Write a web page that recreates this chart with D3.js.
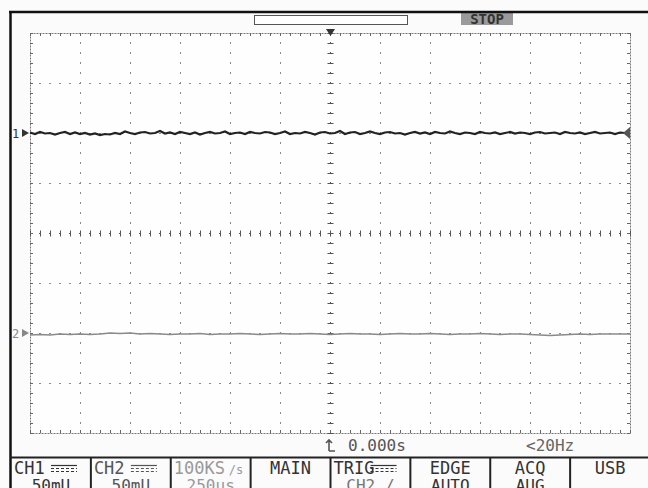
<!DOCTYPE html>
<html>
<head>
<meta charset="utf-8">
<script src="https://cdn.jsdelivr.net/npm/d3@7"></script>
<style>
  body { margin: 0; background: #fff; }
  text { font-family: "DejaVu Sans Mono", monospace; }
</style>
</head>
<body>
<div id="renderer"></div>
<script>
// timebase 250us/div, 12 divisions; vertical 50mV/div, 8 divisions
const timeDomain = [-1.5, 1.5];      // ms
const voltDomain = [-200, 200];      // mV
const timeDiv = 0.25;
const voltDiv = 50;

// CH1 trace, mV, one sample every 0.025 ms
const ch1 = [
  100.5, 99, 101, 99.5, 100, 98.5, 100, 101, 99, 100.5,
  99, 100, 98.5, 99.5, 98, 99, 98.5, 100, 99, 101.5,
  100, 99, 100.5, 101, 99.5, 100, 102, 99.5, 100.5, 99,
  101, 100, 99, 100.5, 98.5, 100, 101, 99.5, 100, 101.5,
  99, 100, 100.5, 99, 101, 100, 99.5, 101, 100.5, 99,
  100, 101.5, 99, 100, 99.5, 101, 100, 98.5, 100.5, 101,
  99.5, 100, 102, 99, 100.5, 101, 99, 100, 101.5, 100,
  99, 100.5, 101, 99.5, 100, 98.5, 100, 101, 99.5, 100.5,
  99, 101, 100, 99.5, 101.5, 100, 99, 100.5, 100, 99,
  101, 100, 99.5, 100.5, 99, 100, 101, 99.5, 100.5, 100,
  99, 100.5, 101, 99.5, 100, 100.5, 99, 101, 100, 99.5,
  100.5, 99, 100, 101, 99.5, 100, 100.5, 99, 100.5, 100, 100
];

// CH2 trace, mV, one sample every 0.05 ms
const ch2 = [
  -102, -101.5, -102, -101, -101.5, -101, -101.5, -101, -100, -100.5,
  -100, -101, -100.5, -101, -101.5, -101, -101, -100.5, -101.5, -101,
  -101, -100.5, -101, -101.5, -101, -100.5, -101, -101, -100.5, -101,
  -101.5, -101, -100.5, -101, -101, -101.5, -101, -100.5, -101, -101,
  -100.5, -101, -101.5, -101, -101, -100.5, -101, -101.5, -101, -101,
  -101.5, -102, -102.5, -102, -101.5, -101, -101.5, -101, -101, -101, -101
];

const ch1Offset = 100;   // channel ground markers, mV
const ch2Offset = -100;
const trigLevel = 100;

const buttons = [
  { top: "CH1", bottom: "50mU", dc: true, color: "#333", color2: "#333" },
  { top: "CH2", bottom: "50mU", dc: true, color: "#555", color2: "#555" },
  { top: "100KS", bottom: "250us", dc: false, color: "#999", color2: "#999", unit: "/s" },
  { top: "MAIN", bottom: "", dc: false, color: "#333", color2: "#333" },
  { top: "TRIG", bottom: "CH2 /", dc: true, color: "#333", color2: "#777" },
  { top: "EDGE", bottom: "AUTO", dc: false, color: "#333", color2: "#333" },
  { top: "ACQ", bottom: "AUG", dc: false, color: "#333", color2: "#333" },
  { top: "USB", bottom: "", dc: false, color: "#333", color2: "#333" }
];

const statusTime = "0.000s";
const statusFreq = "<20Hz";

const width = 648, height = 488;
const svg = d3.select("#renderer").append("svg")
  .attr("width", width).attr("height", height);

svg.append("rect").attr("width", width).attr("height", height).attr("fill", "#fbfbfb");

const x = d3.scaleLinear().domain(timeDomain).range([30, 630]);
const y = d3.scaleLinear().domain(voltDomain).range([433, 33]);

const nX = Math.round((timeDomain[1] - timeDomain[0]) / timeDiv);
const nY = Math.round((voltDomain[1] - voltDomain[0]) / voltDiv);
const xMajor = d3.range(nX + 1).map(i => timeDomain[0] + i * timeDiv);
const yMajor = d3.range(nY + 1).map(i => voltDomain[0] + i * voltDiv);
const xMinor = d3.range(nX * 5 + 1).map(i => timeDomain[0] + i * timeDiv / 5);
const yMinor = d3.range(nY * 5 + 1).map(i => voltDomain[0] + i * voltDiv / 5);

// plot background
svg.append("rect")
  .attr("x", x(timeDomain[0])).attr("y", y(voltDomain[1]))
  .attr("width", x(timeDomain[1]) - x(timeDomain[0]))
  .attr("height", y(voltDomain[0]) - y(voltDomain[1]))
  .attr("fill", "#fefefe");

const grid = svg.append("g");

// dotted grid lines
grid.selectAll(".vg").data(xMajor.slice(1, -1)).join("line")
  .attr("x1", d => x(d) + 0.5).attr("x2", d => x(d) + 0.5)
  .attr("y1", y(voltDomain[1])).attr("y2", y(voltDomain[0]))
  .attr("stroke", d => d === 0 ? "#555" : "#8a8a8a")
  .attr("stroke-dasharray", "2,8").attr("stroke-dashoffset", 1);
grid.selectAll(".hg").data(yMajor.slice(1, -1)).join("line")
  .attr("y1", d => y(d) + 0.5).attr("y2", d => y(d) + 0.5)
  .attr("x1", x(timeDomain[0])).attr("x2", x(timeDomain[1]))
  .attr("stroke", d => d === 0 ? "#555" : "#8a8a8a")
  .attr("stroke-dasharray", "2,8").attr("stroke-dashoffset", 1);

// border
grid.append("rect")
  .attr("x", x(timeDomain[0]) + 0.5).attr("y", y(voltDomain[1]) + 0.5)
  .attr("width", x(timeDomain[1]) - x(timeDomain[0]))
  .attr("height", y(voltDomain[0]) - y(voltDomain[1]))
  .attr("fill", "none").attr("stroke", "#777").attr("stroke-dasharray", "2,1");

// minor ticks on border and center lines
const tick = (x1, y1, x2, y2, c) => grid.append("line")
  .attr("x1", x1).attr("y1", y1).attr("x2", x2).attr("y2", y2)
  .attr("stroke", c || "#666").attr("stroke-width", 1);

xMinor.forEach(t => {
  const px = Math.round(x(t)) + 0.5;
  tick(px, y(voltDomain[1]), px, y(voltDomain[1]) + 3);
  tick(px, y(voltDomain[0]), px, y(voltDomain[0]) - 3);
  tick(px, y(0) - 2.5, px, y(0) + 3.5, "#555");
});
yMinor.forEach(v => {
  const py = Math.round(y(v)) + 0.5;
  tick(x(timeDomain[0]), py, x(timeDomain[0]) + 3, py);
  tick(x(timeDomain[1]), py, x(timeDomain[1]) - 3, py);
  tick(x(0) - 2.5, py, x(0) + 3.5, py, "#555");
});

// traces
const line = d3.line().x(d => x(d[0])).y(d => y(d[1]));
const ch1Pts = ch1.map((v, i) => [timeDomain[0] + i * (timeDomain[1] - timeDomain[0]) / (ch1.length - 1), v]);
const ch2Pts = ch2.map((v, i) => [timeDomain[0] + i * (timeDomain[1] - timeDomain[0]) / (ch2.length - 1), v]);

svg.append("path").datum(ch2Pts).attr("d", line)
  .attr("fill", "none").attr("stroke", "#8a8a8a").attr("stroke-width", 1.5);
svg.append("path").datum(ch1Pts).attr("d", line)
  .attr("fill", "none").attr("stroke", "#222").attr("stroke-width", 2.2);

// channel markers
function chMarker(v, label, color) {
  const py = y(v);
  svg.append("path")
    .attr("d", `M22,${py - 4}L29,${py}L22,${py + 4}Z`).attr("fill", color);
  svg.append("text").attr("x", 12).attr("y", py + 5)
    .attr("font-size", 12).attr("fill", color).text(label);
}
chMarker(ch1Offset, "1", "#333");
chMarker(ch2Offset, "2", "#888");

// trigger level marker (right)
const ty = y(trigLevel);
svg.append("path").attr("d", `M630,${ty - 6}L623,${ty}L630,${ty + 6}Z`).attr("fill", "#555");

// trigger position marker (top)
svg.append("path")
  .attr("d", `M${x(0) - 4},${y(voltDomain[1]) - 4}L${x(0) + 5},${y(voltDomain[1]) - 4}L${x(0) + 0.5},${y(voltDomain[1]) + 3}Z`)
  .attr("fill", "#333");

// memory bar and STOP
svg.append("rect").attr("x", 254.5).attr("y", 15.5).attr("width", 153).attr("height", 9)
  .attr("fill", "#fff").attr("stroke", "#555");
svg.append("rect").attr("x", 461).attr("y", 12).attr("width", 52).attr("height", 13).attr("fill", "#9a9a9a");
svg.append("text").attr("x", 487).attr("y", 24).attr("text-anchor", "middle")
  .attr("font-size", 14).attr("font-weight", "bold").attr("fill", "#333").text("STOP");

// outer frame
svg.append("line").attr("x1", 9).attr("x2", width).attr("y1", 12).attr("y2", 12)
  .attr("stroke", "#111").attr("stroke-width", 2.5);
svg.append("line").attr("x1", 10.5).attr("x2", 10.5).attr("y1", 11).attr("y2", height)
  .attr("stroke", "#111").attr("stroke-width", 2.5);

// status line
const sx = x(0);
svg.append("path")
  .attr("d", `M${sx - 1},451V440M${sx - 4},443L${sx - 1},440L${sx + 2},443M${sx - 1},451H${sx + 5}`)
  .attr("fill", "none").attr("stroke", "#555").attr("stroke-width", 1.6);
svg.append("text").attr("x", 348).attr("y", 451).attr("font-size", 16).attr("fill", "#555").text(statusTime);
svg.append("text").attr("x", 526).attr("y", 451).attr("font-size", 16).attr("fill", "#666").text(statusFreq);

svg.append("line").attr("x1", 10).attr("x2", width).attr("y1", 457.5).attr("y2", 457.5)
  .attr("stroke", "#222").attr("stroke-width", 2);

// buttons row
const bx = d3.scaleBand().domain(d3.range(buttons.length)).range([11, 650]);
buttons.forEach((b, i) => {
  const x0 = bx(i);
  if (i > 0) {
    svg.append("line").attr("x1", x0).attr("x2", x0).attr("y1", 458).attr("y2", height)
      .attr("stroke", "#222").attr("stroke-width", 2);
  }
  const cx = x0 + bx.bandwidth() / 2;
  const top = svg.append("text").attr("y", 474).attr("font-size", 17).attr("fill", b.color);
  if (b.dc) {
    top.attr("x", x0 + 3).text(b.top);
    const dx = x0 + 40;
    svg.append("line").attr("x1", dx).attr("x2", dx + 26).attr("y1", 465.5).attr("y2", 465.5)
      .attr("stroke", b.color).attr("stroke-width", 1.2);
    [468.5, 471.5].forEach(yy => svg.append("line")
      .attr("x1", dx).attr("x2", dx + 26).attr("y1", yy).attr("y2", yy)
      .attr("stroke", b.color).attr("stroke-dasharray", "3,2"));
  } else if (b.unit) {
    top.attr("x", x0 + 3).text(b.top);
    svg.append("text").attr("x", x0 + 58).attr("y", 474).attr("font-size", 12)
      .attr("fill", b.color).text(b.unit);
  } else {
    top.attr("x", cx).attr("text-anchor", "middle").text(b.top);
  }
  if (b.bottom) {
    svg.append("text").attr("x", cx).attr("y", 491).attr("text-anchor", "middle")
      .attr("font-size", 16).attr("fill", b.color2).text(b.bottom);
  }
});
</script>
</body>
</html>
